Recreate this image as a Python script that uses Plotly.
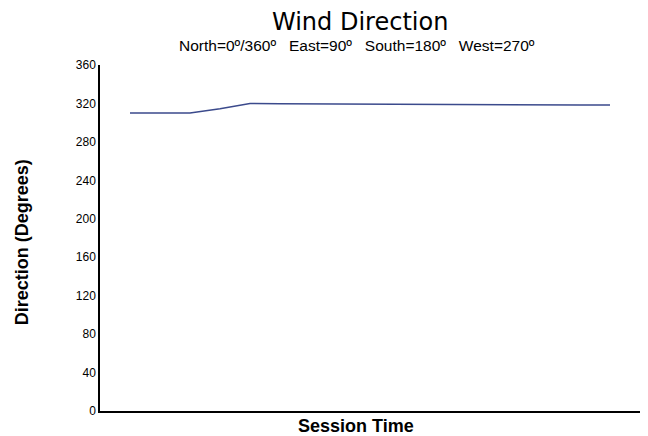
import plotly.graph_objects as go

sessions = list(range(17))
direction = [310, 310, 310, 314.5, 320, 319.8, 319.6, 319.4, 319.2, 319.0, 318.9, 318.8, 318.7, 318.6, 318.5, 318.4, 318.4]
y_ticks = [0, 40, 80, 120, 160, 200, 240, 280, 320, 360]

fig = go.Figure()
fig.add_trace(go.Scatter(x=sessions, y=direction, mode="lines",
                         line=dict(color="#3b4a8c", width=1.5), showlegend=False))

# page body adds an 8px offset, so the figure is sized to fit the 648x436 window
fig.update_layout(
    width=640, height=428,
    margin=dict(l=92, r=8, t=57, b=25),
    paper_bgcolor="white", plot_bgcolor="white",
    xaxis=dict(range=[-1, 17], showgrid=False, zeroline=False, showticklabels=False,
               ticks="", showline=True, linecolor="black", linewidth=1.5),
    yaxis=dict(range=[0, 360], tickvals=y_ticks, showgrid=False, zeroline=False,
               ticks="", showline=True, linecolor="black", linewidth=1.5,
               tickfont=dict(family="Liberation Sans, Arial", size=12, color="black")),
)
fig.add_annotation(text="Wind Direction", xref="paper", yref="paper", x=0.4815, y=1.124,
                   showarrow=False, yanchor="middle", xanchor="center",
                   font=dict(family="DejaVu Sans", size=24, color="black"))
fig.add_annotation(text="North=0º/360º   East=90º   South=180º   West=270º", xref="paper", yref="paper",
                   x=0.476, y=1.055, showarrow=False, yanchor="middle", xanchor="center",
                   font=dict(family="Liberation Sans, Arial", size=15.5, color="black"))
fig.add_annotation(text="<b>Session Time</b>", xref="paper", yref="paper", x=0.474, y=-0.0434,
                   showarrow=False, yanchor="middle", xanchor="center",
                   font=dict(family="Liberation Sans, Arial", size=18, color="black"))
fig.add_annotation(text="<b>Direction (Degrees)</b>", xref="paper", yref="paper", x=-0.1444, y=0.488,
                   showarrow=False, yanchor="middle", xanchor="center", textangle=-90,
                   font=dict(family="Liberation Sans, Arial", size=18, color="black"))

fig.write_html("out.html")
